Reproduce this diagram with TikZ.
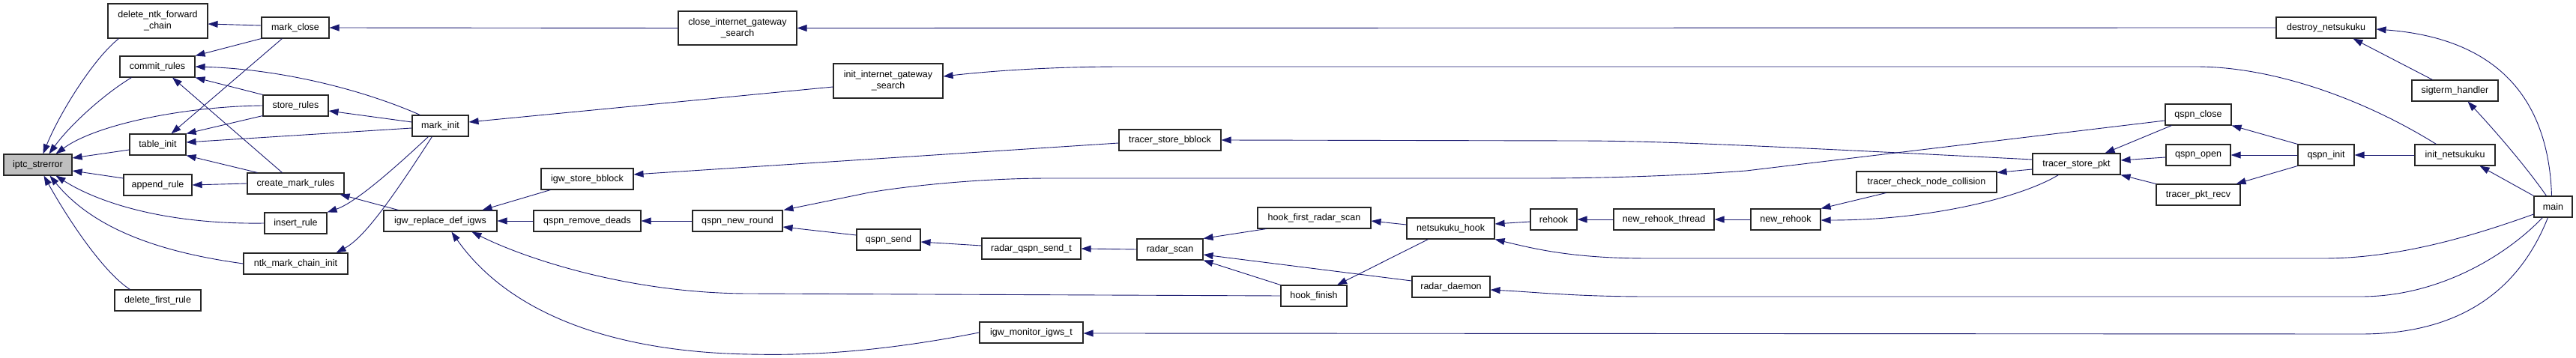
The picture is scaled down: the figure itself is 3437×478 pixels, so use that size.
\documentclass[tikz,border=0pt]{standalone}
\usepackage{fontspec}
\setmainfont{Liberation Sans}
\usetikzlibrary{arrows.meta,calc}
\definecolor{edgeblue}{HTML}{191970}
\definecolor{boxgray}{HTML}{BFBFBF}
\tikzset{
  fn/.style={draw=black!85, line width=1.1pt, fill=white, rectangle, inner sep=0pt,
    minimum height=28pt, font=\fontsize{12.5}{15}\selectfont, align=center},
  e/.style={draw=edgeblue, line width=0.9pt, -{Triangle[length=13pt,width=9pt]}},
}
\begin{document}
\begin{tikzpicture}[x=1pt,y=-1pt]
\useasboundingbox (0,0) rectangle (3437,478);
% nodes
\node[fn, fill=boxgray, minimum width=91pt] (iptc) at (50.5,220) {iptc\_strerror};
\node[fn, minimum width=133pt, minimum height=46pt] (dnfc) at (210.5,28) {delete\_ntk\_forward\\\_chain};
\node[fn, minimum width=100pt] (commit) at (210,89) {commit\_rules};
\node[fn, minimum width=75pt] (tinit) at (210.5,193) {table\_init};
\node[fn, minimum width=91pt] (append) at (210.5,247) {append\_rule};
\node[fn, minimum width=115pt] (dfr) at (210.5,401) {delete\_first\_rule};
\node[fn, minimum width=90pt] (mclose) at (394,37) {mark\_close};
\node[fn, minimum width=87pt] (store) at (394.5,141) {store\_rules};
\node[fn, minimum width=129pt] (cmr) at (394.5,245) {create\_mark\_rules};
\node[fn, minimum width=83pt] (insert) at (394.5,298) {insert\_rule};
\node[fn, minimum width=139pt] (ntk) at (394.5,352) {ntk\_mark\_chain\_init};
\node[fn, minimum width=75pt] (minit) at (587.5,168) {mark\_init};
\node[fn, minimum width=151pt] (igwr) at (587.5,295) {igw\_replace\_def\_igws};
\node[fn, minimum width=123pt] (igwsb) at (783.5,239) {igw\_store\_bblock};
\node[fn, minimum width=143pt] (qrd) at (783.5,295) {qspn\_remove\_deads};
\node[fn, minimum width=158pt, minimum height=45pt] (cigs) at (984,37.5) {close\_internet\_gateway\\\_search};
\node[fn, minimum width=120pt] (qnr) at (984,295) {qspn\_new\_round};
\node[fn, minimum width=146pt, minimum height=46pt] (iigs) at (1185,108) {init\_internet\_gateway\\\_search};
\node[fn, minimum width=85pt] (qsend) at (1185.5,320) {qspn\_send};
\node[fn, minimum width=132pt] (rqst) at (1376,332) {radar\_qspn\_send\_t};
\node[fn, minimum width=138pt] (igwm) at (1376,444) {igw\_monitor\_igws\_t};
\node[fn, minimum width=136pt] (tsb) at (1561,187) {tracer\_store\_bblock};
\node[fn, minimum width=88pt] (rscan) at (1561,333) {radar\_scan};
\node[fn, minimum width=151pt] (hfrs) at (1753.5,291) {hook\_first\_radar\_scan};
\node[fn, minimum width=88pt] (hfin) at (1753,395) {hook\_finish};
\node[fn, minimum width=117pt] (nhook) at (1935.5,305) {netsukuku\_hook};
\node[fn, minimum width=104pt] (rdaemon) at (1936,383) {radar\_daemon};
\node[fn, minimum width=62pt] (rehook) at (2073,293) {rehook};
\node[fn, minimum width=134pt] (nrt) at (2220,293) {new\_rehook\_thread};
\node[fn, minimum width=93pt] (nrehook) at (2382.5,293) {new\_rehook};
\node[fn, minimum width=187pt] (tcnc) at (2570.5,243) {tracer\_check\_node\_collision};
\node[fn, minimum width=117pt] (tsp) at (2770.5,219) {tracer\_store\_pkt};
\node[fn, minimum width=88pt] (qclose) at (2933,153) {qspn\_close};
\node[fn, minimum width=86pt] (qopen) at (2933,207) {qspn\_open};
\node[fn, minimum width=112pt] (tpr) at (2933,260) {tracer\_pkt\_recv};
\node[fn, minimum width=75pt] (qinit) at (3103.5,207) {qspn\_init};
\node[fn, minimum width=133pt] (destroy) at (3103.5,37) {destroy\_netsukuku};
\node[fn, minimum width=107pt] (inetsu) at (3275.5,207) {init\_netsukuku};
\node[fn, minimum width=115pt] (sigterm) at (3275.5,121) {sigterm\_handler};
\node[fn, minimum width=51pt] (main) at (3406.5,276) {main};
% edges into iptc_strerror
\draw[e] ($(dnfc.south west)+(15,0)$) .. controls (125,78) and (80,150) .. ($(iptc.north west)+(53,0)$);
\draw[e] ($(commit.south west)+(16,0)$) .. controls (140,125) and (95,165) .. ($(iptc.north west)+(61,0)$);
\draw[e] (store.west) .. controls (250,142) and (130,165) .. ($(iptc.north west)+(70,0)$);
\draw[e] ($(tinit.west)+(0,7)$) -- ($(iptc.east)+(0,-9)$);
\draw[e] ($(append.west)+(0,-9)$) -- ($(iptc.east)+(0,8)$);
\draw[e] (insert.west) .. controls (220,300) and (130,270) .. ($(iptc.south west)+(70,0)$);
\draw[e] (ntk.west) .. controls (200,335) and (120,300) .. ($(iptc.south west)+(62,0)$);
\draw[e] ($(dfr.north west)+(21,0)$) .. controls (140,365) and (95,300) .. ($(iptc.south west)+(54,0)$);
% mark_close
\draw[e] ($(mclose.west)+(0,-3)$) -- ($(dnfc.east)+(0,4)$);
\draw[e] (mclose.south west) -- (commit.north east);
\draw[e] ($(mclose.south west)+(28,0)$) -- ($(tinit.north)+(18,0)$);
% mark_init
\draw[e] ($(minit.north west)+(11,0)$) .. controls (480,118) and (370,92) .. (commit.east);
\draw[e] ($(minit.west)+(0,-5)$) -- ($(store.east)+(0,7)$);
\draw[e] ($(minit.west)+(0,3)$) -- ($(tinit.east)+(0,-3)$);
\draw[e] ($(minit.south west)+(22,0)$) .. controls (510,240) and (470,272) .. (insert.north east);
\draw[e] ($(minit.south west)+(27,0)$) .. controls (520,270) and (485,318) .. ($(ntk.north east)+(-16,0)$);
% store_rules, create_mark_rules
\draw[e] (store.north west) -- (commit.south east);
\draw[e] ($(store.south west)+(0,-1)$) -- (tinit.north east);
\draw[e] ($(cmr.north west)+(47,0)$) -- ($(commit.south)+(20,0)$);
\draw[e] ($(cmr.north west)+(14,0)$) -- (tinit.south east);
\draw[e] (cmr.west) -- (append.east);
\draw[e] ($(igwr.north west)+(20,0)$) -- ($(cmr.south east)+(-6,0)$);
% gateway search
\draw[e] (cigs.west) -- (mclose.east);
\draw[e] (destroy.west) -- (cigs.east);
\draw[e] ($(iigs.west)+(0,8)$) -- ($(minit.east)+(0,-5)$);
\draw[e] ($(inetsu.north west)+(29,0)$) .. controls (3150,130) and (3030,89) .. (2930,89) -- (1500,89) .. controls (1400,89) and (1320,95) .. ($(iigs.east)+(0,-6)$);
% igw_replace_def_igws
\draw[e] ($(igwsb.south west)+(13,0)$) -- ($(igwr.north east)+(-20,0)$);
\draw[e] (qrd.west) -- (igwr.east);
\draw[e] (qnr.west) -- (qrd.east);
\draw[e] (hfin.west) -- (1000,392) .. controls (840,392) and (700,345) .. ($(igwr.south)+(42,0)$);
\draw[e] (igwm.west) .. controls (1150,475) and (1050,474) .. (1000,473) .. controls (820,470) and (680,420) .. ($(igwr.south west)+(91,0)$);
% tracer / qspn
\draw[e] ($(tsb.west)+(0,4)$) -- ($(igwsb.east)+(0,-6)$);
\draw[e] ($(tsp.west)+(0,-6)$) .. controls (2300,192) and (2200,188) .. (2100,188) -- (tsb.east);
\draw[e] ($(qclose.west)+(0,8)$) -- (2330,228) .. controls (2250,234) and (2150,238) .. (2050,238) -- (1400,238) .. controls (1300,238) and (1200,250) .. (1160,257) -- ($(qnr.north east)+(1,0)$);
\draw[e] ($(qsend.west)+(0,-6)$) -- ($(qnr.east)+(0,8)$);
\draw[e] ($(rqst.west)+(0,-4)$) -- ($(qsend.east)+(0,3)$);
\draw[e] (rscan.west) -- (rqst.east);
\draw[e] ($(hfrs.south west)+(12,0)$) -- (rscan.north east);
\draw[e] ($(rdaemon.west)+(0,-8)$) -- ($(rscan.east)+(0,7)$);
\draw[e] (hfin.north west) -- (rscan.south east);
\draw[e] ($(nhook.west)+(0,-5)$) -- ($(hfrs.east)+(0,4)$);
\draw[e] ($(nhook.south west)+(29,0)$) -- ($(hfin.north)+(31,0)$);
\draw[e] ($(rehook.west)+(0,3)$) -- ($(nhook.east)+(0,-6)$);
\draw[e] (nrt.west) -- (rehook.east);
\draw[e] (nrehook.west) -- (nrt.east);
\draw[e] ($(tcnc.south west)+(40,0)$) -- (nrehook.north east);
\draw[e] ($(tsp.south west)+(35,0)$) .. controls (2700,262) and (2580,294) .. ($(nrehook.east)+(0,1)$);
\draw[e] ($(tsp.west)+(0,7)$) -- ($(tcnc.north east)+(0,2)$);
\draw[e] ($(qclose.south west)+(9,0)$) -- ($(tsp.north east)+(-21,0)$);
\draw[e] ($(qopen.west)+(0,3)$) -- ($(tsp.east)+(0,-5)$);
\draw[e] (tpr.north west) -- (tsp.south east);
\draw[e] (qinit.north west) -- (qclose.south east);
\draw[e] (qinit.west) -- (qopen.east);
\draw[e] (qinit.south west) -- ($(tpr.north east)+(-6,0)$);
\draw[e] (inetsu.west) -- (qinit.east);
% main
\draw[e] (main.north west) -- ($(inetsu.south east)+(-21,0)$);
\draw[e] ($(main.north)+(-9,0)$) .. controls (3365,215) and (3320,165) .. ($(sigterm.south east)+(-41,0)$);
\draw[e] ($(sigterm.north west)+(28,0)$) -- ($(destroy.south east)+(-31,0)$);
\draw[e] ($(main.north)+(-2,0)$) .. controls (3400,120) and (3320,50) .. ($(destroy.east)+(0,2)$);
\draw[e] ($(main.west)+(0,10)$) .. controls (3300,315) and (3200,345) .. (3100,345) -- (2200,345) .. controls (2100,345) and (2050,333) .. (nhook.south east);
\draw[e] ($(main.south west)+(12,0)$) .. controls (3340,345) and (3250,396) .. (3150,396) -- (2200,396) .. controls (2100,396) and (2050,390) .. ($(rdaemon.east)+(0,4)$);
\draw[e] ($(main.south west)+(19,0)$) .. controls (3360,390) and (3280,446) .. (3150,446) -- ($(igwm.east)+(0,1)$);
\end{tikzpicture}
\end{document}
